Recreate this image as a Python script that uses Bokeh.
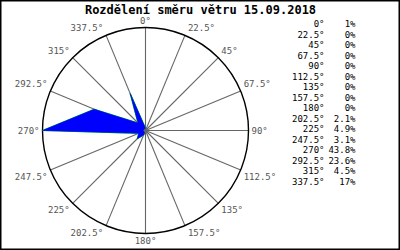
import math
from bokeh.plotting import figure
from bokeh.models import Range1d
from bokeh.core.properties import value
from bokeh.embed import file_html
from bokeh.resources import INLINE

title = "Rozdělení směru větru 15.09.2018"
directions = [0, 22.5, 45, 67.5, 90, 112.5, 135, 157.5, 180, 202.5, 225, 247.5, 270, 292.5, 315, 337.5]
dir_labels = ["0°", "22.5°", "45°", "67.5°", "90°", "112.5°", "135°", "157.5°", "180°",
              "202.5°", "225°", "247.5°", "270°", "292.5°", "315°", "337.5°"]
percents = [1, 0, 0, 0, 0, 0, 0, 0, 0, 2.1, 4.9, 3.1, 43.8, 23.6, 4.5, 17]
pct_labels = ["1%", "0%", "0%", "0%", "0%", "0%", "0%", "0%", "0%", "2.1%", "4.9%", "3.1%",
              "43.8%", "23.6%", "4.5%", "17%"]

CX, CY, R = 145, 130, 103
MONO = value("DejaVu Sans Mono")

p = figure(width=400, height=250, output_backend="svg", toolbar_location=None,
           x_range=Range1d(0, 400), y_range=Range1d(250, 0), min_border=0)
p.axis.visible = False
p.grid.visible = False
p.outline_line_color = "black"
p.outline_line_width = 2
p.background_fill_color = "white"
p.border_fill_color = "white"

def pt(angle, r):
    a = math.radians(angle)
    return CX + r * math.sin(a), CY - r * math.cos(a)

# spokes
xs0, ys0, xs1, ys1 = [], [], [], []
for d in directions:
    x, y = pt(d, R)
    xs0.append(CX); ys0.append(CY); xs1.append(x); ys1.append(y)
p.segment(x0=xs0, y0=ys0, x1=xs1, y1=ys1, line_color="#666666", line_width=1.1)

# circle
p.ellipse(x=[CX], y=[CY], width=[2 * R], height=[2 * R], fill_color=None,
          line_color="black", line_width=1.4)

# wind polygon
mx = max(percents)
px, py = [], []
for d, v in zip(directions, percents):
    x, y = pt(d, v / mx * R)
    px.append(x); py.append(y)
p.patch(px, py, fill_color="#0000ff", line_color="#00dd00", line_width=1.2)
p.patch(px, py, fill_color="#0000ff", line_color="#0000ff", line_width=0.6)
p.scatter([CX], [CY], size=3, color="#666666")

# direction labels
for d, lab in zip(directions, dir_labels):
    s, c = math.sin(math.radians(d)), math.cos(math.radians(d))
    x, y = pt(d, R)
    align = "left" if s > 0.01 else ("right" if s < -0.01 else "center")
    base = "bottom" if c > 0.01 else ("top" if c < -0.01 else "middle")
    x += 3 * (1 if s > 0.01 else (-1 if s < -0.01 else 0))
    y -= 2 * (1 if c > 0.01 else (-1 if c < -0.01 else 0))
    p.text([x], [y], text=[lab], text_font=MONO, text_font_size="9px",
           text_color="#555555", text_align=align, text_baseline=base)

# legend
ly = [23.5 + i * 10.5 for i in range(len(directions))]
p.text([324] * len(ly), ly, text=dir_labels, text_font=MONO, text_font_size="9px",
       text_color="black", text_align="right", text_baseline="middle")
p.text([355] * len(ly), ly, text=pct_labels, text_font=MONO, text_font_size="9px",
       text_color="black", text_align="right", text_baseline="middle")

# title
p.text([200], [9], text=[title], text_font=MONO, text_font_size="12px",
       text_font_style="bold", text_color="black", text_align="center",
       text_baseline="middle")

open("out.html", "w").write(file_html(p, INLINE))
